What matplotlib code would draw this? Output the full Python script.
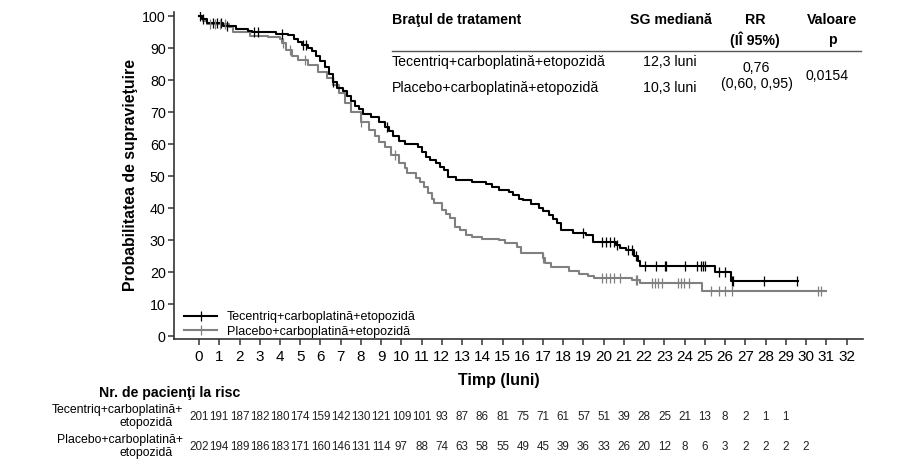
import numpy as np
import matplotlib.pyplot as plt
from matplotlib import transforms
from matplotlib.lines import Line2D

plt.rcParams['font.family'] = ['Liberation Sans', 'DejaVu Sans']

W, H = 919, 475

# Kaplan-Meier step knots (months, survival %)
atezo_t = [0, 0.15, 0.4, 1.2, 1.8, 2.4, 2.6, 3.8, 4.4, 4.7, 4.9, 5.1, 5.4, 5.6, 5.8, 6.0,
           6.2, 6.4, 6.6, 6.8, 7.1, 7.3, 7.5, 7.7, 7.9, 8.1, 8.5, 8.9, 9.2, 9.4, 9.6, 9.9,
           10.2, 10.8, 11.0, 11.2, 11.4, 11.7, 11.9, 12.1, 12.3, 12.7, 13.5, 14.2, 14.5,
           14.8, 15.3, 15.5, 15.8, 16.0, 16.4, 16.8, 17.0, 17.3, 17.5, 17.7, 17.9, 18.5,
           19.1, 19.45, 20.6, 20.8, 21.1, 21.5, 21.7, 21.8, 25.5, 26.3, 29.6]
atezo_s = [100, 99, 98, 97, 96, 95.5, 95, 94.5, 94, 93, 92, 91, 90, 89, 87.5, 86,
           84, 82, 79.5, 77.5, 76.5, 75, 73.5, 72, 71, 69.5, 68.5, 67, 65.5, 64, 62.5, 61,
           60, 59, 57.5, 56, 55, 54, 53, 52, 49.8, 48.8, 48.3, 47.5, 46.7,
           45.7, 45, 44.1, 43, 42.5, 41.2, 40, 39.2, 37.8, 36.5, 35.5, 33.2, 32.3,
           31.6, 29.5, 28.5, 27.5, 26.9, 25, 23.5, 22, 20.1, 17.3, 17.3]
atezo_cens = [0.05, 0.2, 0.7, 0.9, 1.1, 1.4, 2.7, 2.9, 4.1, 5.15, 5.3, 6.6, 9.3, 19.0,
              19.9, 20.1, 20.3, 20.5, 20.65, 21.2, 21.4, 21.6, 22.05, 22.6, 23.05, 23.1,
              24.0, 24.6, 24.8, 24.9, 25.0, 25.7, 26.0, 26.35, 26.4, 27.9, 29.55]

plac_t = [0, 0.2, 0.4, 1.5, 1.7, 2.5, 3.4, 4.0, 4.1, 4.3, 4.6, 4.9, 5.4, 5.9, 6.3, 6.6,
          6.9, 7.2, 7.5, 8.0, 8.4, 8.7, 8.9, 9.2, 9.5, 9.9, 10.2, 10.3, 10.7, 10.9, 11.1,
          11.3, 11.5, 11.6, 12.0, 12.2, 12.4, 12.65, 12.9, 13.2, 13.5, 14.0, 14.8, 15.1,
          15.7, 15.9, 17.0, 17.1, 17.4, 18.3, 18.8, 19.2, 19.5, 21.4, 21.8, 24.85, 31.0]
plac_s = [100, 98.5, 97.6, 96.5, 95.2, 93.8, 93.4, 92.8, 91.6, 89.5, 87.4, 86.3, 84.8, 82.7, 80.6, 78.5,
          75.9, 72.8, 70.2, 67, 64.4, 62.5, 60.8, 59, 56.6, 54, 52.5, 50.9, 49.5, 48.3, 46.5,
          44.6, 43, 41.5, 39.4, 38.2, 36.8, 34.2, 33.2, 31.6, 31.1, 30.5, 30.0, 29,
          27.9, 25.9, 24.5, 22.7, 21.5, 20.4, 19.5, 18.8, 18.2, 17.5, 16.7, 14.2, 14.2]
plac_cens = [0.55, 0.8, 1.05, 1.3, 4.15, 4.5, 5.25, 8.0, 9.7, 17.0, 19.9, 20.1, 20.3,
             20.5, 20.8, 21.6, 21.65, 22.4, 22.55, 22.7, 22.9, 23.65, 23.8, 23.95, 24.2,
             25.3, 25.7, 26.0, 26.35, 30.6, 30.75]

months = list(range(0, 33))
atezo_risk = [201, 191, 187, 182, 180, 174, 159, 142, 130, 121, 109, 101, 93, 87, 86, 81,
              75, 71, 61, 57, 51, 39, 28, 25, 21, 13, 8, 2, 1, 1]
plac_risk = [202, 194, 189, 186, 183, 171, 160, 146, 131, 114, 97, 88, 74, 63, 58, 55,
             49, 45, 39, 36, 33, 26, 20, 12, 8, 6, 3, 2, 2, 2, 2]

arm_names = ['Tecentriq+carboplatină+etopozidă', 'Placebo+carboplatină+etopozidă']
medians = ['12,3 luni', '10,3 luni']
colors = ['#000000', '#808080']


def surv_at(t, ts, ss):
    i = np.searchsorted(ts, t, side='right') - 1
    return np.array(ss)[i]


def fx(px):
    return px / W


def fy(py):
    return 1 - py / H


fig = plt.figure(figsize=(W / 100, H / 100), dpi=100)
ax = fig.add_axes([fx(174), fy(339.3), fx(862.7) - fx(174), fy(11.7) - fy(339.3)])

for ts, ss, cens, c in [(atezo_t, atezo_s, atezo_cens, colors[0]),
                        (plac_t, plac_s, plac_cens, colors[1])]:
    ax.step(ts, ss, where='post', color=c, lw=1.5, zorder=3 if c == colors[0] else 2)
    ax.plot(cens, surv_at(cens, ts, ss), ls='none', marker='|', ms=7, mew=0.9, color=c,
            zorder=3)

ax.set_xlim(-1.24, 32.8)
ax.set_ylim(-1.0, 101.4)
ax.set_xticks(months)
ax.set_yticks(range(0, 101, 10))
for s in ['top', 'right']:
    ax.spines[s].set_visible(False)
for s in ['left', 'bottom']:
    ax.spines[s].set_color('#333333')
    ax.spines[s].set_linewidth(1.2)
ax.tick_params(axis='both', colors='#333333', labelcolor='black', length=4, width=1.1)
ax.tick_params(axis='x', pad=4, labelsize=11)
ax.tick_params(axis='y', pad=2, labelsize=10.3)

handles = [Line2D([], [], color=c, lw=1.5, marker='|', ms=7, mew=0.9) for c in colors]
ax.legend(handles, arm_names, loc='lower left', bbox_to_anchor=(fx(173), fy(349)),
          bbox_transform=fig.transFigure, frameon=False, fontsize=9,
          handlelength=2.6, handletextpad=0.8, labelspacing=0.2)

fig.text(fx(130), fy(175), 'Probabilitatea de supravieţuire', rotation=90, ha='center',
         va='center', fontsize=11.4, fontweight='bold')
fig.text(fx(498.6), fy(380), 'Timp (luni)', ha='center', va='center', fontsize=11.5,
         fontweight='bold')

# table at top right
fs = 10.2
fig.text(fx(392), fy(20), 'Braţul de tratament', ha='left', va='center', fontsize=fs,
         fontweight='bold')
fig.text(fx(671), fy(20), 'SG mediană', ha='center', va='center', fontsize=fs,
         fontweight='bold')
fig.text(fx(755), fy(20), 'RR', ha='center', va='center', fontsize=fs, fontweight='bold')
fig.text(fx(755), fy(40), '(IÎ 95%)', ha='center', va='center', fontsize=fs,
         fontweight='bold')
fig.text(fx(832), fy(20), 'Valoare', ha='center', va='center', fontsize=fs,
         fontweight='bold')
fig.text(fx(832), fy(40), 'p', ha='center', va='center', fontsize=fs, fontweight='bold')
fig.add_artist(Line2D([fx(392), fx(861)], [fy(51), fy(51)], color='#555555', lw=1.0))
for name, med, py in zip(arm_names, medians, [62, 88]):
    fig.text(fx(392), fy(py), name, ha='left', va='center', fontsize=fs)
    fig.text(fx(670), fy(py), med, ha='center', va='center', fontsize=fs)
fig.text(fx(756), fy(68), '0,76', ha='center', va='center', fontsize=fs)
fig.text(fx(757), fy(84), '(0,60, 0,95)', ha='center', va='center', fontsize=fs)
fig.text(fx(827), fy(76), '0,0154', ha='center', va='center', fontsize=fs)

# numbers at risk
fig.text(fx(170), fy(393), 'Nr. de pacienţi la risc', ha='center', va='center',
         fontsize=10.2, fontweight='bold')
tr = transforms.blended_transform_factory(ax.transData, fig.transFigure)
for label, risk, py in [(('Tecentriq+carboplatină+', 'etopozidă'), atezo_risk, 417),
                        (('Placebo+carboplatină+', 'etopozidă'), plac_risk, 447)]:
    fig.text(fx(183), fy(py - 7), label[0], ha='right', va='center', fontsize=8.8)
    fig.text(fx(173), fy(py + 6), label[1], ha='right', va='center', fontsize=8.8)
    for m, n in zip(months, risk):
        ax.text(m, fy(py), str(n), transform=tr, ha='center', va='center', fontsize=8.4,
                color='#222222')

fig.savefig('out.png', dpi=100)
